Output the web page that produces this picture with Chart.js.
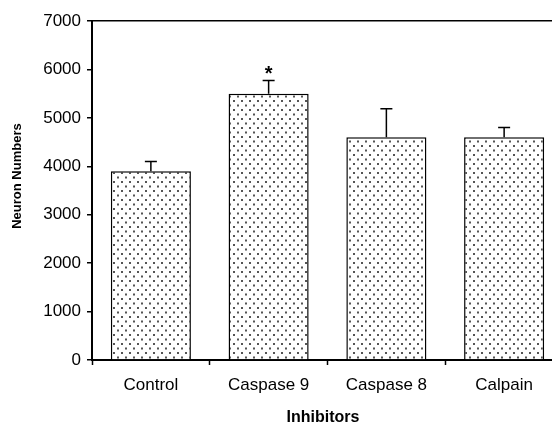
<!DOCTYPE html>
<html>
<head>
<meta charset="utf-8">
<script src="https://cdn.jsdelivr.net/npm/chart.js@4"></script>
<style>
  html, body { margin: 0; padding: 0; background: #fff; overflow: hidden; }
  #wrap { width: 563px; height: 427px; }
</style>
</head>
<body>
<div id="wrap"><canvas id="chart"></canvas></div>
<script>
// --- DATA ---
const categories = ['Control', 'Caspase 9', 'Caspase 8', 'Calpain'];
const neuronMeans = [3900, 5500, 4600, 4600];
const neuronErrors = [200, 270, 590, 200];
const significance = ['', '*', '', ''];
const yTicks = [0, 1000, 2000, 3000, 4000, 5000, 6000, 7000];

const FONT = "'Liberation Sans', Arial, sans-serif";

// dotted fill like the old Excel pattern
function makeDots() {
    const c = document.createElement('canvas');
    c.width = 8;
    c.height = 9;
    const g = c.getContext('2d');
    g.fillStyle = '#fff';
    g.fillRect(0, 0, 8, 9);
    g.fillStyle = '#555';
    g.fillRect(1, 1, 2, 2);
    g.fillRect(5, 5.5, 2, 2);
    return g.createPattern(c, 'repeat');
}

// error bars + asterisk drawn from the y scale
const errorBars = {
    id: 'errorBars',
    afterDatasetsDraw(chart) {
        const ctx = chart.ctx;
        const y = chart.scales.y;
        const meta = chart.getDatasetMeta(0);
        ctx.save();
        ctx.strokeStyle = '#000';
        ctx.lineWidth = 1.5;
        meta.data.forEach((bar, i) => {
            const top = y.getPixelForValue(neuronMeans[i] + neuronErrors[i]);
            const base = y.getPixelForValue(neuronMeans[i]);
            ctx.beginPath();
            ctx.moveTo(bar.x, base);
            ctx.lineTo(bar.x, top);
            ctx.moveTo(bar.x - 6, top);
            ctx.lineTo(bar.x + 6, top);
            ctx.stroke();
            if (significance[i]) {
                ctx.fillStyle = '#000';
                ctx.font = 'bold 20px ' + FONT;
                ctx.textAlign = 'center';
                ctx.textBaseline = 'alphabetic';
                ctx.fillText(significance[i], bar.x, top - 1);
            }
        });
        ctx.restore();
    }
};

new Chart(document.getElementById('chart'), {
    type: 'bar',
    data: {
        labels: categories,
        datasets: [{
            data: neuronMeans,
            backgroundColor: makeDots(),
            borderColor: '#000',
            borderWidth: 1.5,
            barPercentage: 0.68,
            categoryPercentage: 1.0
        }]
    },
    options: {
        responsive: true,
        maintainAspectRatio: false,
        animation: false,
        layout: { padding: { top: 21, right: 0, bottom: 0, left: 0 } },
        plugins: {
            legend: { display: false },
            tooltip: { enabled: false }
        },
        scales: {
            x: {
                offset: true,
                grid: {
                    offset: true,
                    drawOnChartArea: false,
                    drawTicks: true,
                    tickLength: 5,
                    tickWidth: 1.5,
                    color: '#000'
                },
                border: { display: true, color: '#000', width: 2 },
                ticks: {
                    color: '#000',
                    padding: 10,
                    font: { family: FONT, size: 17 }
                },
                title: {
                    display: true,
                    text: 'Inhibitors  ',
                    color: '#000',
                    padding: { top: 0, bottom: 0 },
                    font: { family: FONT, size: 16, weight: 'bold' }
                },
                afterFit(scale) { scale.height = 67; }
            },
            y: {
                min: 0,
                max: 7000,
                afterBuildTicks(scale) {
                    scale.ticks = yTicks.map(v => ({ value: v }));
                },
                grid: {
                    drawTicks: true,
                    tickLength: 5,
                    tickWidth: 1.5,
                    tickColor: '#000',
                    lineWidth: 1.5,
                    color: (c) => (c.tick && c.tick.value === 7000 ? '#000' : 'rgba(0,0,0,0)')
                },
                border: { display: true, color: '#000', width: 2 },
                ticks: {
                    color: '#000',
                    padding: 6,
                    font: { family: FONT, size: 17 },
                    callback: (v) => String(v)
                },
                title: {
                    display: true,
                    text: '        Neuron Numbers',
                    color: '#000',
                    padding: { top: 10, bottom: 0 },
                    font: { family: FONT, size: 13, weight: 'bold' }
                },
                afterFit(scale) { scale.width = 92; }
            }
        }
    },
    plugins: [errorBars]
});
</script>
</body>
</html>
